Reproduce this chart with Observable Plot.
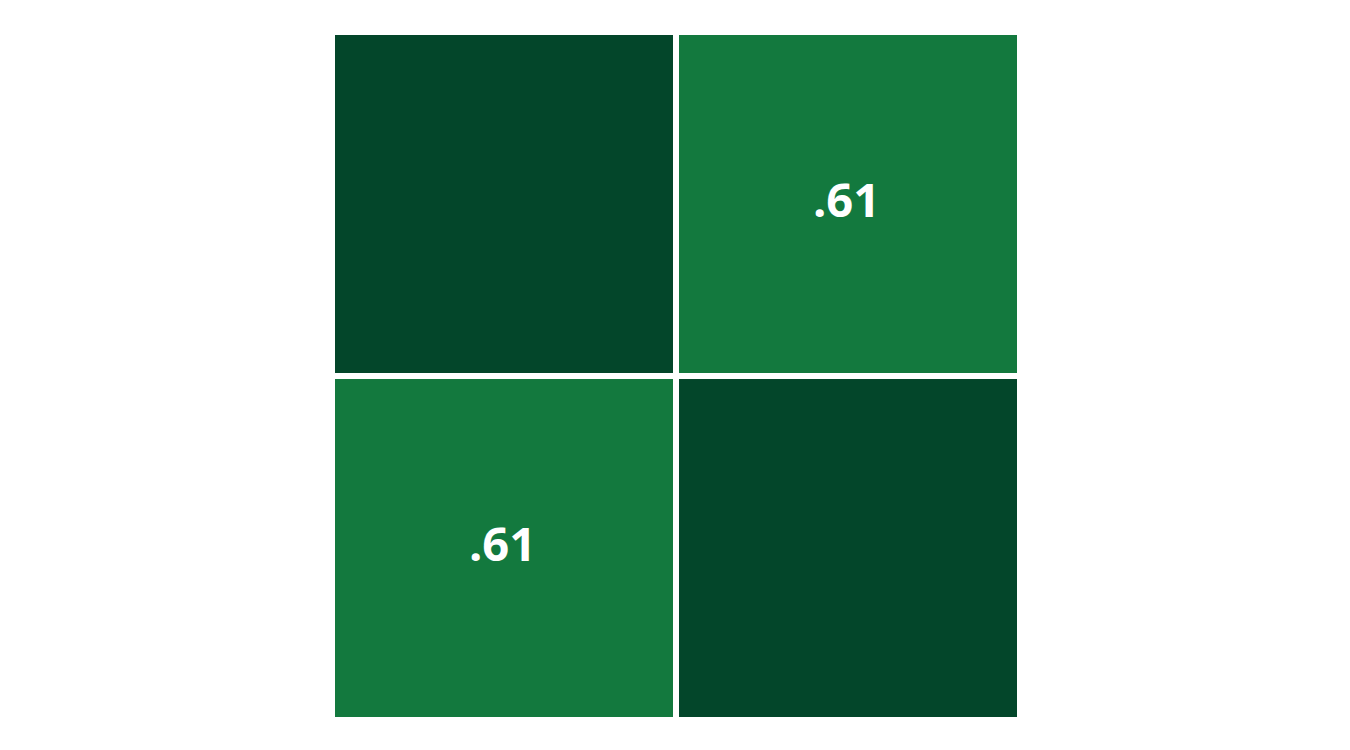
<!DOCTYPE html>
<html>
<head>
<meta charset="utf-8">
<script src="https://cdn.jsdelivr.net/npm/d3@7"></script>
<script src="https://cdn.jsdelivr.net/npm/@observablehq/plot@0.6"></script>
<style>
  html, body { margin: 0; padding: 0; background: #fff; }
</style>
</head>
<body>
<div id="chart"></div>
<script>
const variables = ["A", "B"];
const correlations = [
  [1.00, 0.61],
  [0.61, 1.00]
];

const cells = [];
variables.forEach((row, i) => {
  variables.forEach((col, j) => {
    cells.push({ row, col, value: correlations[i][j] });
  });
});

const fmt = v => d3.format(".2f")(v).replace(/^0\./, ".").replace(/^-0\./, "-.");

const chart = Plot.plot({
  width: 1350,
  height: 750,
  marginLeft: 0,
  marginRight: 0,
  marginTop: 0,
  marginBottom: 0,
  x: { domain: variables, range: [331.5, 1020], padding: 0, axis: null },
  y: { domain: variables, range: [31.5, 720], padding: 0, axis: null },
  color: { type: "linear", domain: [0.61, 1], range: ["#13793e", "#03462a"] },
  marks: [
    Plot.cell(cells, { x: "col", y: "row", fill: "value", inset: 3 }),
    Plot.text(cells.filter(d => d.row !== d.col), {
      x: "col", y: "row", text: d => fmt(d.value),
      fill: "white", fontSize: 47, fontWeight: "bold",
      fontFamily: "Open Sans", dx: -2, dy: -3
    })
  ]
});
document.getElementById("chart").appendChild(chart);
</script>
</body>
</html>
